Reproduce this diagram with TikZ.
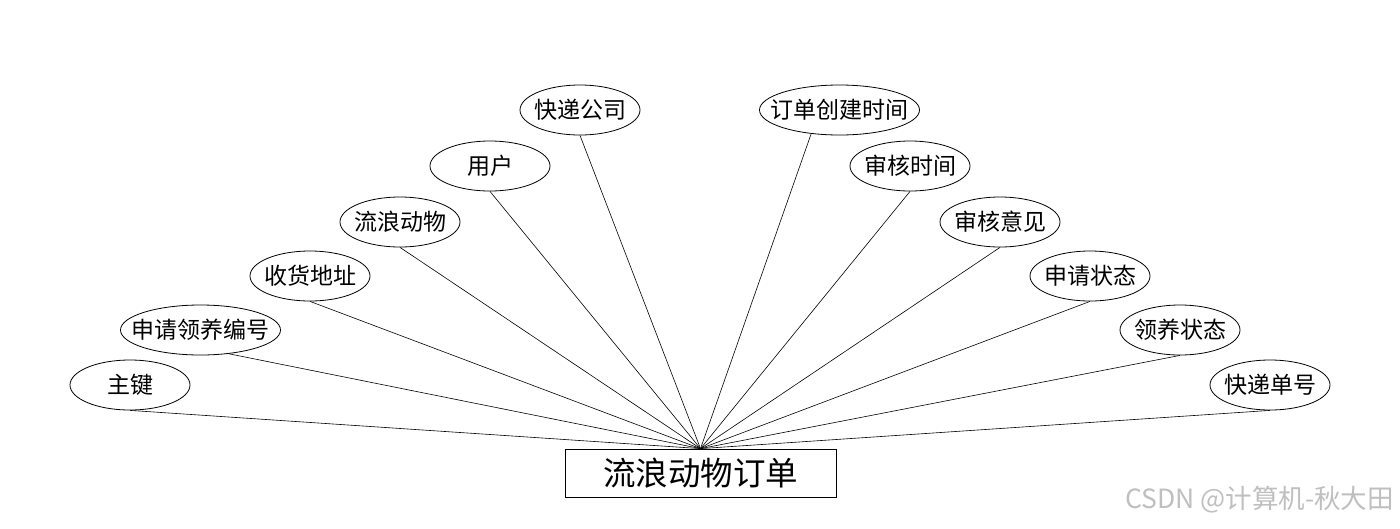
\documentclass[tikz,border=0pt]{standalone}
\usepackage{fontspec}
\setmainfont{Noto Sans CJK SC}
\usetikzlibrary{shapes.geometric}
\newcommand\zb[1]{\makebox[0pt]{#1}}
\tikzset{
  attr/.style={draw=black, line width=0.8pt, ellipse, inner sep=0pt, minimum width=120pt, minimum height=50pt, font=\fontsize{23}{23}\selectfont},
  wattr/.style={attr, minimum width=160pt},
  ent/.style={draw=black, line width=0.8pt, rectangle, inner sep=0pt, minimum width=271pt, minimum height=48pt, font=\fontsize{32.5}{32.5}\selectfont},
  link/.style={draw=black, line width=0.6pt}
}
\begin{document}
\begin{tikzpicture}[x=1pt,y=-1pt]
\useasboundingbox (0,0) rectangle (1400,528);
\node[ent] (c) at (700.5,473) {\zb{流浪动物订单}};
\node[attr]  (a1) at (130,385) {\zb{主键}};
\node[wattr] (a2) at (200.5,330) {\zb{申请领养编号}};
\node[attr]  (a3) at (310,276) {\zb{收货地址}};
\node[attr]  (a4) at (400,222) {\zb{流浪动物}};
\node[attr]  (a5) at (490,166) {\zb{用户}};
\node[attr]  (a6) at (580,110) {\zb{快递公司}};
\node[wattr] (b1) at (839.5,110) {\zb{订单创建时间}};
\node[attr]  (b2) at (910,166) {\zb{审核时间}};
\node[attr]  (b3) at (1000,222) {\zb{审核意见}};
\node[attr]  (b4) at (1090,276) {\zb{申请状态}};
\node[attr]  (b5) at (1180,330) {\zb{领养状态}};
\node[attr]  (b6) at (1270,385) {\zb{快递单号}};
\foreach \n in {a1,a3,a4,a5,a6,b2,b3,b4,b5,b6}
  \draw[link] (\n.south) -- (c.north);
\draw[link] (a2.-40) -- (c.north);
\draw[link] (b1.-140) -- (c.north);
\node[text=black!25, font=\fontsize{26.5}{26.5}\selectfont, anchor=east, inner sep=0pt] (wm) at (1394,500) {CSDN @计算机-秋大田};
\end{tikzpicture}
\end{document}
